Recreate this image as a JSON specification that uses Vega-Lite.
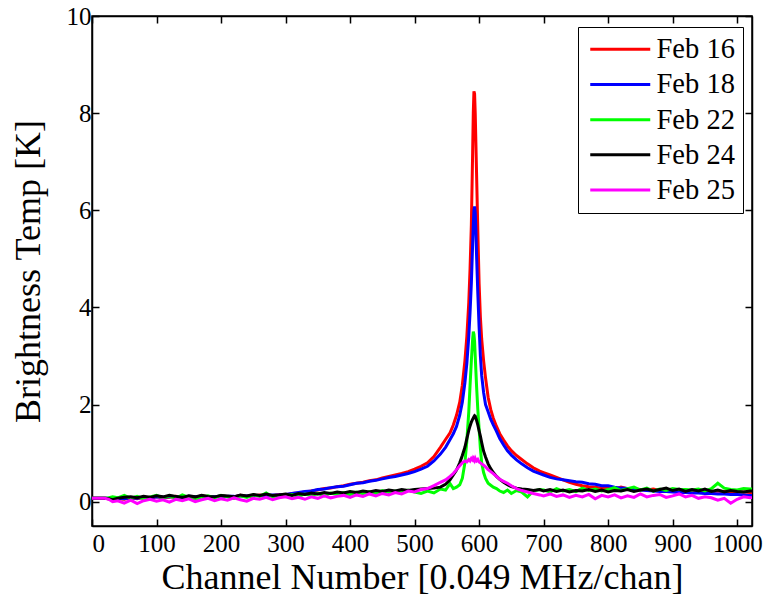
{
"$schema": "https://vega.github.io/schema/vega-lite/v6.json",
"width": 660, "height": 510,
"autosize": {"type": "none"},
"padding": {"left": 92, "top": 16, "right": 14, "bottom": 77},
"background": "white",
"config": {
 "font": "Liberation Serif",
 "view": {"stroke": "black", "strokeWidth": 1.5},
 "axis": {"grid": false, "domainColor": "black", "domainWidth": 1.5, "tickColor": "black", "tickWidth": 1.5, "tickSize": -7, "labelFontSize": 25, "labelColor": "black", "labelFont": "Liberation Serif", "titleFont": "Liberation Serif", "titleFontSize": 36, "titleFontWeight": "normal", "titleColor": "black"},
 "legend": {"orient": "none", "legendX": 486, "legendY": 11, "strokeColor": "black", "fillColor": "white", "padding": 8, "symbolType": "M-6,0H6", "symbolSize": 100, "symbolStrokeWidth": 3, "symbolOffset": 20, "labelOffset": 22, "labelFontSize": 28.5, "labelFont": "Liberation Serif", "labelColor": "black", "rowPadding": 6.2}
},
"datasets": {"d": [
{"s":"Feb 16","c":0,"t":0.07},{"s":"Feb 16","c":10,"t":0.07},{"s":"Feb 16","c":20,"t":0.07},{"s":"Feb 16","c":26,"t":0.06},{"s":"Feb 16","c":32,"t":0.04},{"s":"Feb 16","c":40,"t":0.06},{"s":"Feb 16","c":50,"t":0.05},{"s":"Feb 16","c":60,"t":0.08},{"s":"Feb 16","c":70,"t":0.06},{"s":"Feb 16","c":80,"t":0.09},{"s":"Feb 16","c":90,"t":0.07},{"s":"Feb 16","c":100,"t":0.1},{"s":"Feb 16","c":110,"t":0.08},{"s":"Feb 16","c":120,"t":0.09},{"s":"Feb 16","c":130,"t":0.11},{"s":"Feb 16","c":140,"t":0.08},{"s":"Feb 16","c":150,"t":0.1},{"s":"Feb 16","c":160,"t":0.09},{"s":"Feb 16","c":170,"t":0.12},{"s":"Feb 16","c":180,"t":0.1},{"s":"Feb 16","c":190,"t":0.09},{"s":"Feb 16","c":200,"t":0.12},{"s":"Feb 16","c":210,"t":0.11},{"s":"Feb 16","c":220,"t":0.1},{"s":"Feb 16","c":230,"t":0.13},{"s":"Feb 16","c":240,"t":0.11},{"s":"Feb 16","c":250,"t":0.12},{"s":"Feb 16","c":260,"t":0.14},{"s":"Feb 16","c":270,"t":0.12},{"s":"Feb 16","c":280,"t":0.13},{"s":"Feb 16","c":290,"t":0.15},{"s":"Feb 16","c":300,"t":0.14},{"s":"Feb 16","c":310,"t":0.17},{"s":"Feb 16","c":320,"t":0.18},{"s":"Feb 16","c":330,"t":0.2},{"s":"Feb 16","c":340,"t":0.22},{"s":"Feb 16","c":350,"t":0.24},{"s":"Feb 16","c":360,"t":0.27},{"s":"Feb 16","c":370,"t":0.28},{"s":"Feb 16","c":380,"t":0.31},{"s":"Feb 16","c":390,"t":0.33},{"s":"Feb 16","c":400,"t":0.36},{"s":"Feb 16","c":410,"t":0.38},{"s":"Feb 16","c":420,"t":0.4},{"s":"Feb 16","c":430,"t":0.43},{"s":"Feb 16","c":440,"t":0.45},{"s":"Feb 16","c":450,"t":0.49},{"s":"Feb 16","c":460,"t":0.52},{"s":"Feb 16","c":470,"t":0.55},{"s":"Feb 16","c":480,"t":0.58},{"s":"Feb 16","c":490,"t":0.62},{"s":"Feb 16","c":500,"t":0.67},{"s":"Feb 16","c":510,"t":0.73},
{"s":"Feb 16","c":520,"t":0.8},{"s":"Feb 16","c":530,"t":0.93},{"s":"Feb 16","c":540,"t":1.12},{"s":"Feb 16","c":548,"t":1.28},{"s":"Feb 16","c":555,"t":1.42},{"s":"Feb 16","c":560,"t":1.58},{"s":"Feb 16","c":565,"t":1.78},{"s":"Feb 16","c":570,"t":2.05},{"s":"Feb 16","c":574,"t":2.4},{"s":"Feb 16","c":578,"t":2.9},{"s":"Feb 16","c":581,"t":3.4},{"s":"Feb 16","c":584,"t":4.1},{"s":"Feb 16","c":586,"t":4.8},{"s":"Feb 16","c":588,"t":5.7},{"s":"Feb 16","c":590,"t":7.2},{"s":"Feb 16","c":591,"t":8.0},{"s":"Feb 16","c":592,"t":8.45},{"s":"Feb 16","c":593,"t":8.4},{"s":"Feb 16","c":594,"t":8.0},{"s":"Feb 16","c":595,"t":7.4},{"s":"Feb 16","c":596,"t":6.8},{"s":"Feb 16","c":598,"t":5.6},{"s":"Feb 16","c":600,"t":4.5},{"s":"Feb 16","c":602,"t":3.8},{"s":"Feb 16","c":604,"t":3.35},{"s":"Feb 16","c":607,"t":2.9},{"s":"Feb 16","c":610,"t":2.55},{"s":"Feb 16","c":614,"t":2.15},{"s":"Feb 16","c":618,"t":1.9},{"s":"Feb 16","c":622,"t":1.72},{"s":"Feb 16","c":627,"t":1.55},{"s":"Feb 16","c":632,"t":1.4},{"s":"Feb 16","c":638,"t":1.27},{"s":"Feb 16","c":644,"t":1.15},{"s":"Feb 16","c":650,"t":1.05},{"s":"Feb 16","c":658,"t":0.95},{"s":"Feb 16","c":666,"t":0.87},{"s":"Feb 16","c":675,"t":0.78},{"s":"Feb 16","c":684,"t":0.7},{"s":"Feb 16","c":694,"t":0.63},
{"s":"Feb 16","c":700,"t":0.6},{"s":"Feb 16","c":710,"t":0.55},{"s":"Feb 16","c":720,"t":0.5},{"s":"Feb 16","c":730,"t":0.45},{"s":"Feb 16","c":740,"t":0.4},{"s":"Feb 16","c":750,"t":0.36},{"s":"Feb 16","c":760,"t":0.33},{"s":"Feb 16","c":770,"t":0.31},{"s":"Feb 16","c":780,"t":0.3},{"s":"Feb 16","c":790,"t":0.28},{"s":"Feb 16","c":800,"t":0.27},{"s":"Feb 16","c":810,"t":0.26},{"s":"Feb 16","c":820,"t":0.3},{"s":"Feb 16","c":830,"t":0.27},{"s":"Feb 16","c":840,"t":0.26},{"s":"Feb 16","c":850,"t":0.25},{"s":"Feb 16","c":860,"t":0.24},{"s":"Feb 16","c":870,"t":0.26},{"s":"Feb 16","c":880,"t":0.23},{"s":"Feb 16","c":890,"t":0.25},{"s":"Feb 16","c":900,"t":0.22},{"s":"Feb 16","c":910,"t":0.24},{"s":"Feb 16","c":920,"t":0.23},{"s":"Feb 16","c":930,"t":0.21},{"s":"Feb 16","c":940,"t":0.23},{"s":"Feb 16","c":950,"t":0.22},{"s":"Feb 16","c":960,"t":0.2},{"s":"Feb 16","c":970,"t":0.22},{"s":"Feb 16","c":980,"t":0.21},{"s":"Feb 16","c":990,"t":0.19},{"s":"Feb 16","c":1000,"t":0.21},{"s":"Feb 16","c":1010,"t":0.2},{"s":"Feb 16","c":1020,"t":0.19},{"s":"Feb 16","c":1023,"t":0.19},
{"s":"Feb 18","c":0,"t":0.07},{"s":"Feb 18","c":10,"t":0.07},{"s":"Feb 18","c":20,"t":0.07},{"s":"Feb 18","c":26,"t":0.07},{"s":"Feb 18","c":32,"t":0.05},{"s":"Feb 18","c":40,"t":0.07},{"s":"Feb 18","c":50,"t":0.06},{"s":"Feb 18","c":60,"t":0.08},{"s":"Feb 18","c":70,"t":0.07},{"s":"Feb 18","c":80,"t":0.09},{"s":"Feb 18","c":90,"t":0.08},{"s":"Feb 18","c":100,"t":0.1},{"s":"Feb 18","c":110,"t":0.09},{"s":"Feb 18","c":120,"t":0.1},{"s":"Feb 18","c":130,"t":0.1},{"s":"Feb 18","c":140,"t":0.09},{"s":"Feb 18","c":150,"t":0.11},{"s":"Feb 18","c":160,"t":0.1},{"s":"Feb 18","c":170,"t":0.11},{"s":"Feb 18","c":180,"t":0.1},{"s":"Feb 18","c":190,"t":0.1},{"s":"Feb 18","c":200,"t":0.12},{"s":"Feb 18","c":210,"t":0.11},{"s":"Feb 18","c":220,"t":0.11},{"s":"Feb 18","c":230,"t":0.12},{"s":"Feb 18","c":240,"t":0.12},{"s":"Feb 18","c":250,"t":0.13},{"s":"Feb 18","c":260,"t":0.13},{"s":"Feb 18","c":270,"t":0.13},{"s":"Feb 18","c":280,"t":0.14},{"s":"Feb 18","c":290,"t":0.14},{"s":"Feb 18","c":300,"t":0.15},{"s":"Feb 18","c":310,"t":0.17},{"s":"Feb 18","c":320,"t":0.19},{"s":"Feb 18","c":330,"t":0.21},{"s":"Feb 18","c":340,"t":0.22},{"s":"Feb 18","c":350,"t":0.25},{"s":"Feb 18","c":360,"t":0.26},{"s":"Feb 18","c":370,"t":0.29},{"s":"Feb 18","c":380,"t":0.31},{"s":"Feb 18","c":390,"t":0.32},{"s":"Feb 18","c":400,"t":0.35},{"s":"Feb 18","c":410,"t":0.38},{"s":"Feb 18","c":420,"t":0.39},{"s":"Feb 18","c":430,"t":0.42},{"s":"Feb 18","c":440,"t":0.44},{"s":"Feb 18","c":450,"t":0.47},{"s":"Feb 18","c":460,"t":0.5},{"s":"Feb 18","c":470,"t":0.52},{"s":"Feb 18","c":480,"t":0.55},{"s":"Feb 18","c":490,"t":0.58},{"s":"Feb 18","c":500,"t":0.62},{"s":"Feb 18","c":510,"t":0.67},
{"s":"Feb 18","c":520,"t":0.73},{"s":"Feb 18","c":530,"t":0.84},{"s":"Feb 18","c":540,"t":0.98},{"s":"Feb 18","c":548,"t":1.12},{"s":"Feb 18","c":555,"t":1.28},{"s":"Feb 18","c":560,"t":1.4},{"s":"Feb 18","c":565,"t":1.55},{"s":"Feb 18","c":570,"t":1.78},{"s":"Feb 18","c":574,"t":2.05},{"s":"Feb 18","c":578,"t":2.45},{"s":"Feb 18","c":581,"t":2.85},{"s":"Feb 18","c":584,"t":3.4},{"s":"Feb 18","c":586,"t":3.9},{"s":"Feb 18","c":588,"t":4.5},{"s":"Feb 18","c":590,"t":5.3},{"s":"Feb 18","c":591,"t":5.7},{"s":"Feb 18","c":592,"t":6.0},{"s":"Feb 18","c":593,"t":6.08},{"s":"Feb 18","c":594,"t":5.95},{"s":"Feb 18","c":595,"t":5.6},{"s":"Feb 18","c":596,"t":5.1},{"s":"Feb 18","c":598,"t":4.3},{"s":"Feb 18","c":600,"t":3.6},{"s":"Feb 18","c":602,"t":3.0},{"s":"Feb 18","c":604,"t":2.6},{"s":"Feb 18","c":607,"t":2.25},{"s":"Feb 18","c":610,"t":2.0},{"s":"Feb 18","c":614,"t":1.85},{"s":"Feb 18","c":618,"t":1.7},{"s":"Feb 18","c":622,"t":1.58},{"s":"Feb 18","c":627,"t":1.45},{"s":"Feb 18","c":632,"t":1.3},{"s":"Feb 18","c":638,"t":1.17},{"s":"Feb 18","c":644,"t":1.05},{"s":"Feb 18","c":650,"t":0.96},{"s":"Feb 18","c":658,"t":0.86},{"s":"Feb 18","c":666,"t":0.78},{"s":"Feb 18","c":675,"t":0.7},{"s":"Feb 18","c":684,"t":0.63},{"s":"Feb 18","c":694,"t":0.58},
{"s":"Feb 18","c":700,"t":0.55},{"s":"Feb 18","c":710,"t":0.5},{"s":"Feb 18","c":720,"t":0.47},{"s":"Feb 18","c":730,"t":0.45},{"s":"Feb 18","c":740,"t":0.43},{"s":"Feb 18","c":750,"t":0.41},{"s":"Feb 18","c":760,"t":0.4},{"s":"Feb 18","c":770,"t":0.37},{"s":"Feb 18","c":780,"t":0.36},{"s":"Feb 18","c":790,"t":0.33},{"s":"Feb 18","c":800,"t":0.33},{"s":"Feb 18","c":810,"t":0.3},{"s":"Feb 18","c":820,"t":0.28},{"s":"Feb 18","c":830,"t":0.27},{"s":"Feb 18","c":840,"t":0.26},{"s":"Feb 18","c":850,"t":0.24},{"s":"Feb 18","c":860,"t":0.23},{"s":"Feb 18","c":870,"t":0.22},{"s":"Feb 18","c":880,"t":0.21},{"s":"Feb 18","c":890,"t":0.21},{"s":"Feb 18","c":900,"t":0.2},{"s":"Feb 18","c":910,"t":0.19},{"s":"Feb 18","c":920,"t":0.19},{"s":"Feb 18","c":930,"t":0.18},{"s":"Feb 18","c":940,"t":0.18},{"s":"Feb 18","c":950,"t":0.17},{"s":"Feb 18","c":960,"t":0.17},{"s":"Feb 18","c":970,"t":0.16},{"s":"Feb 18","c":980,"t":0.16},{"s":"Feb 18","c":990,"t":0.15},{"s":"Feb 18","c":1000,"t":0.15},{"s":"Feb 18","c":1010,"t":0.14},{"s":"Feb 18","c":1020,"t":0.13},{"s":"Feb 18","c":1023,"t":0.13},
{"s":"Feb 22","c":0,"t":0.07},{"s":"Feb 22","c":10,"t":0.07},{"s":"Feb 22","c":20,"t":0.07},{"s":"Feb 22","c":26,"t":0.08},{"s":"Feb 22","c":32,"t":0.1},{"s":"Feb 22","c":40,"t":0.08},{"s":"Feb 22","c":50,"t":0.13},{"s":"Feb 22","c":60,"t":0.07},{"s":"Feb 22","c":70,"t":0.11},{"s":"Feb 22","c":80,"t":0.06},{"s":"Feb 22","c":90,"t":0.1},{"s":"Feb 22","c":100,"t":0.13},{"s":"Feb 22","c":110,"t":0.08},{"s":"Feb 22","c":120,"t":0.12},{"s":"Feb 22","c":130,"t":0.07},{"s":"Feb 22","c":140,"t":0.14},{"s":"Feb 22","c":150,"t":0.09},{"s":"Feb 22","c":160,"t":0.03},{"s":"Feb 22","c":170,"t":0.1},{"s":"Feb 22","c":180,"t":0.12},{"s":"Feb 22","c":190,"t":0.08},{"s":"Feb 22","c":200,"t":0.13},{"s":"Feb 22","c":210,"t":0.1},{"s":"Feb 22","c":220,"t":0.07},{"s":"Feb 22","c":230,"t":0.12},{"s":"Feb 22","c":240,"t":0.09},{"s":"Feb 22","c":250,"t":0.14},{"s":"Feb 22","c":260,"t":0.11},{"s":"Feb 22","c":270,"t":0.18},{"s":"Feb 22","c":280,"t":0.1},{"s":"Feb 22","c":290,"t":0.13},{"s":"Feb 22","c":300,"t":0.12},{"s":"Feb 22","c":310,"t":0.15},{"s":"Feb 22","c":320,"t":0.11},{"s":"Feb 22","c":330,"t":0.16},{"s":"Feb 22","c":340,"t":0.13},{"s":"Feb 22","c":350,"t":0.17},{"s":"Feb 22","c":360,"t":0.12},{"s":"Feb 22","c":370,"t":0.18},{"s":"Feb 22","c":380,"t":0.15},{"s":"Feb 22","c":390,"t":0.19},{"s":"Feb 22","c":400,"t":0.14},{"s":"Feb 22","c":410,"t":0.2},{"s":"Feb 22","c":420,"t":0.16},{"s":"Feb 22","c":430,"t":0.21},{"s":"Feb 22","c":440,"t":0.17},{"s":"Feb 22","c":450,"t":0.23},{"s":"Feb 22","c":460,"t":0.19},{"s":"Feb 22","c":470,"t":0.22},{"s":"Feb 22","c":480,"t":0.18},{"s":"Feb 22","c":490,"t":0.24},{"s":"Feb 22","c":500,"t":0.2},{"s":"Feb 22","c":510,"t":0.17},
{"s":"Feb 22","c":520,"t":0.22},{"s":"Feb 22","c":530,"t":0.18},{"s":"Feb 22","c":540,"t":0.26},{"s":"Feb 22","c":548,"t":0.24},{"s":"Feb 22","c":555,"t":0.37},{"s":"Feb 22","c":560,"t":0.27},{"s":"Feb 22","c":565,"t":0.3},{"s":"Feb 22","c":570,"t":0.35},{"s":"Feb 22","c":574,"t":0.48},{"s":"Feb 22","c":578,"t":0.8},{"s":"Feb 22","c":581,"t":1.25},{"s":"Feb 22","c":584,"t":1.85},{"s":"Feb 22","c":586,"t":2.4},{"s":"Feb 22","c":588,"t":2.9},{"s":"Feb 22","c":590,"t":3.35},{"s":"Feb 22","c":591,"t":3.5},{"s":"Feb 22","c":592,"t":3.45},{"s":"Feb 22","c":593,"t":3.3},{"s":"Feb 22","c":594,"t":3.0},{"s":"Feb 22","c":595,"t":2.7},{"s":"Feb 22","c":596,"t":2.4},{"s":"Feb 22","c":598,"t":1.9},{"s":"Feb 22","c":600,"t":1.5},{"s":"Feb 22","c":602,"t":1.1},{"s":"Feb 22","c":604,"t":0.8},{"s":"Feb 22","c":607,"t":0.6},{"s":"Feb 22","c":610,"t":0.48},{"s":"Feb 22","c":614,"t":0.38},{"s":"Feb 22","c":618,"t":0.34},{"s":"Feb 22","c":622,"t":0.3},{"s":"Feb 22","c":627,"t":0.27},{"s":"Feb 22","c":632,"t":0.22},{"s":"Feb 22","c":638,"t":0.19},{"s":"Feb 22","c":644,"t":0.24},{"s":"Feb 22","c":650,"t":0.17},{"s":"Feb 22","c":658,"t":0.23},{"s":"Feb 22","c":666,"t":0.2},{"s":"Feb 22","c":675,"t":0.1},{"s":"Feb 22","c":684,"t":0.22},{"s":"Feb 22","c":694,"t":0.25},
{"s":"Feb 22","c":700,"t":0.24},{"s":"Feb 22","c":710,"t":0.2},{"s":"Feb 22","c":720,"t":0.27},{"s":"Feb 22","c":730,"t":0.22},{"s":"Feb 22","c":740,"t":0.25},{"s":"Feb 22","c":750,"t":0.21},{"s":"Feb 22","c":760,"t":0.28},{"s":"Feb 22","c":770,"t":0.23},{"s":"Feb 22","c":780,"t":0.26},{"s":"Feb 22","c":790,"t":0.22},{"s":"Feb 22","c":800,"t":0.25},{"s":"Feb 22","c":810,"t":0.29},{"s":"Feb 22","c":820,"t":0.23},{"s":"Feb 22","c":830,"t":0.27},{"s":"Feb 22","c":840,"t":0.3},{"s":"Feb 22","c":850,"t":0.24},{"s":"Feb 22","c":860,"t":0.28},{"s":"Feb 22","c":870,"t":0.22},{"s":"Feb 22","c":880,"t":0.26},{"s":"Feb 22","c":890,"t":0.23},{"s":"Feb 22","c":900,"t":0.27},{"s":"Feb 22","c":910,"t":0.25},{"s":"Feb 22","c":920,"t":0.25},{"s":"Feb 22","c":930,"t":0.24},{"s":"Feb 22","c":940,"t":0.26},{"s":"Feb 22","c":950,"t":0.22},{"s":"Feb 22","c":960,"t":0.27},{"s":"Feb 22","c":970,"t":0.38},{"s":"Feb 22","c":980,"t":0.28},{"s":"Feb 22","c":990,"t":0.25},{"s":"Feb 22","c":1000,"t":0.24},{"s":"Feb 22","c":1010,"t":0.27},{"s":"Feb 22","c":1020,"t":0.26},{"s":"Feb 22","c":1023,"t":0.26},
{"s":"Feb 24","c":0,"t":0.07},{"s":"Feb 24","c":10,"t":0.07},{"s":"Feb 24","c":20,"t":0.07},{"s":"Feb 24","c":26,"t":0.06},{"s":"Feb 24","c":32,"t":0.04},{"s":"Feb 24","c":40,"t":0.07},{"s":"Feb 24","c":50,"t":0.09},{"s":"Feb 24","c":60,"t":0.1},{"s":"Feb 24","c":70,"t":0.08},{"s":"Feb 24","c":80,"t":0.11},{"s":"Feb 24","c":90,"t":0.09},{"s":"Feb 24","c":100,"t":0.12},{"s":"Feb 24","c":110,"t":0.1},{"s":"Feb 24","c":120,"t":0.13},{"s":"Feb 24","c":130,"t":0.11},{"s":"Feb 24","c":140,"t":0.09},{"s":"Feb 24","c":150,"t":0.12},{"s":"Feb 24","c":160,"t":0.1},{"s":"Feb 24","c":170,"t":0.13},{"s":"Feb 24","c":180,"t":0.11},{"s":"Feb 24","c":190,"t":0.1},{"s":"Feb 24","c":200,"t":0.13},{"s":"Feb 24","c":210,"t":0.12},{"s":"Feb 24","c":220,"t":0.1},{"s":"Feb 24","c":230,"t":0.14},{"s":"Feb 24","c":240,"t":0.12},{"s":"Feb 24","c":250,"t":0.15},{"s":"Feb 24","c":260,"t":0.13},{"s":"Feb 24","c":270,"t":0.16},{"s":"Feb 24","c":280,"t":0.13},{"s":"Feb 24","c":290,"t":0.14},{"s":"Feb 24","c":300,"t":0.16},{"s":"Feb 24","c":310,"t":0.13},{"s":"Feb 24","c":320,"t":0.17},{"s":"Feb 24","c":330,"t":0.15},{"s":"Feb 24","c":340,"t":0.18},{"s":"Feb 24","c":350,"t":0.16},{"s":"Feb 24","c":360,"t":0.19},{"s":"Feb 24","c":370,"t":0.17},{"s":"Feb 24","c":380,"t":0.2},{"s":"Feb 24","c":390,"t":0.18},{"s":"Feb 24","c":400,"t":0.21},{"s":"Feb 24","c":410,"t":0.19},{"s":"Feb 24","c":420,"t":0.22},{"s":"Feb 24","c":430,"t":0.2},{"s":"Feb 24","c":440,"t":0.23},{"s":"Feb 24","c":450,"t":0.21},{"s":"Feb 24","c":460,"t":0.24},{"s":"Feb 24","c":470,"t":0.22},{"s":"Feb 24","c":480,"t":0.25},{"s":"Feb 24","c":490,"t":0.23},{"s":"Feb 24","c":500,"t":0.25},{"s":"Feb 24","c":510,"t":0.26},
{"s":"Feb 24","c":520,"t":0.27},{"s":"Feb 24","c":530,"t":0.28},{"s":"Feb 24","c":540,"t":0.3},{"s":"Feb 24","c":548,"t":0.36},{"s":"Feb 24","c":555,"t":0.45},{"s":"Feb 24","c":560,"t":0.55},{"s":"Feb 24","c":565,"t":0.65},{"s":"Feb 24","c":570,"t":0.8},{"s":"Feb 24","c":574,"t":0.95},{"s":"Feb 24","c":578,"t":1.12},{"s":"Feb 24","c":581,"t":1.3},{"s":"Feb 24","c":584,"t":1.47},{"s":"Feb 24","c":586,"t":1.56},{"s":"Feb 24","c":588,"t":1.64},{"s":"Feb 24","c":590,"t":1.7},{"s":"Feb 24","c":591,"t":1.72},{"s":"Feb 24","c":592,"t":1.75},{"s":"Feb 24","c":593,"t":1.77},{"s":"Feb 24","c":594,"t":1.76},{"s":"Feb 24","c":595,"t":1.72},{"s":"Feb 24","c":596,"t":1.68},{"s":"Feb 24","c":598,"t":1.58},{"s":"Feb 24","c":600,"t":1.46},{"s":"Feb 24","c":602,"t":1.35},{"s":"Feb 24","c":604,"t":1.22},{"s":"Feb 24","c":607,"t":1.04},{"s":"Feb 24","c":610,"t":0.92},{"s":"Feb 24","c":614,"t":0.78},{"s":"Feb 24","c":618,"t":0.68},{"s":"Feb 24","c":622,"t":0.6},{"s":"Feb 24","c":627,"t":0.52},{"s":"Feb 24","c":632,"t":0.46},{"s":"Feb 24","c":638,"t":0.4},{"s":"Feb 24","c":644,"t":0.35},{"s":"Feb 24","c":650,"t":0.31},{"s":"Feb 24","c":658,"t":0.28},{"s":"Feb 24","c":666,"t":0.26},{"s":"Feb 24","c":675,"t":0.25},{"s":"Feb 24","c":684,"t":0.23},{"s":"Feb 24","c":694,"t":0.25},
{"s":"Feb 24","c":700,"t":0.22},{"s":"Feb 24","c":710,"t":0.25},{"s":"Feb 24","c":720,"t":0.21},{"s":"Feb 24","c":730,"t":0.24},{"s":"Feb 24","c":740,"t":0.2},{"s":"Feb 24","c":750,"t":0.23},{"s":"Feb 24","c":760,"t":0.22},{"s":"Feb 24","c":770,"t":0.25},{"s":"Feb 24","c":780,"t":0.21},{"s":"Feb 24","c":790,"t":0.24},{"s":"Feb 24","c":800,"t":0.2},{"s":"Feb 24","c":810,"t":0.23},{"s":"Feb 24","c":820,"t":0.22},{"s":"Feb 24","c":830,"t":0.25},{"s":"Feb 24","c":840,"t":0.21},{"s":"Feb 24","c":850,"t":0.24},{"s":"Feb 24","c":860,"t":0.26},{"s":"Feb 24","c":870,"t":0.22},{"s":"Feb 24","c":880,"t":0.25},{"s":"Feb 24","c":890,"t":0.28},{"s":"Feb 24","c":900,"t":0.23},{"s":"Feb 24","c":910,"t":0.26},{"s":"Feb 24","c":920,"t":0.21},{"s":"Feb 24","c":930,"t":0.25},{"s":"Feb 24","c":940,"t":0.22},{"s":"Feb 24","c":950,"t":0.26},{"s":"Feb 24","c":960,"t":0.21},{"s":"Feb 24","c":970,"t":0.24},{"s":"Feb 24","c":980,"t":0.2},{"s":"Feb 24","c":990,"t":0.23},{"s":"Feb 24","c":1000,"t":0.21},{"s":"Feb 24","c":1010,"t":0.2},{"s":"Feb 24","c":1020,"t":0.22},{"s":"Feb 24","c":1023,"t":0.22},
{"s":"Feb 25","c":0,"t":0.07},{"s":"Feb 25","c":10,"t":0.07},{"s":"Feb 25","c":20,"t":0.07},{"s":"Feb 25","c":26,"t":0.05},{"s":"Feb 25","c":32,"t":0.0},{"s":"Feb 25","c":40,"t":0.02},{"s":"Feb 25","c":50,"t":-0.03},{"s":"Feb 25","c":60,"t":0.03},{"s":"Feb 25","c":70,"t":-0.04},{"s":"Feb 25","c":80,"t":0.02},{"s":"Feb 25","c":90,"t":0.05},{"s":"Feb 25","c":100,"t":0.01},{"s":"Feb 25","c":110,"t":0.04},{"s":"Feb 25","c":120,"t":-0.01},{"s":"Feb 25","c":130,"t":0.05},{"s":"Feb 25","c":140,"t":0.02},{"s":"Feb 25","c":150,"t":0.06},{"s":"Feb 25","c":160,"t":0.0},{"s":"Feb 25","c":170,"t":0.04},{"s":"Feb 25","c":180,"t":0.07},{"s":"Feb 25","c":190,"t":0.02},{"s":"Feb 25","c":200,"t":0.06},{"s":"Feb 25","c":210,"t":0.03},{"s":"Feb 25","c":220,"t":0.08},{"s":"Feb 25","c":230,"t":0.04},{"s":"Feb 25","c":240,"t":0.01},{"s":"Feb 25","c":250,"t":0.07},{"s":"Feb 25","c":260,"t":0.05},{"s":"Feb 25","c":270,"t":0.09},{"s":"Feb 25","c":280,"t":0.04},{"s":"Feb 25","c":290,"t":0.08},{"s":"Feb 25","c":300,"t":0.1},{"s":"Feb 25","c":310,"t":0.06},{"s":"Feb 25","c":320,"t":0.09},{"s":"Feb 25","c":330,"t":0.05},{"s":"Feb 25","c":340,"t":0.1},{"s":"Feb 25","c":350,"t":0.07},{"s":"Feb 25","c":360,"t":0.12},{"s":"Feb 25","c":370,"t":0.08},{"s":"Feb 25","c":380,"t":0.11},{"s":"Feb 25","c":390,"t":0.13},{"s":"Feb 25","c":400,"t":0.09},{"s":"Feb 25","c":410,"t":0.14},{"s":"Feb 25","c":420,"t":0.11},{"s":"Feb 25","c":430,"t":0.16},{"s":"Feb 25","c":440,"t":0.12},{"s":"Feb 25","c":450,"t":0.17},{"s":"Feb 25","c":460,"t":0.14},{"s":"Feb 25","c":470,"t":0.19},{"s":"Feb 25","c":480,"t":0.16},{"s":"Feb 25","c":490,"t":0.22},{"s":"Feb 25","c":500,"t":0.2},{"s":"Feb 25","c":510,"t":0.25},
{"s":"Feb 25","c":520,"t":0.27},{"s":"Feb 25","c":530,"t":0.33},{"s":"Feb 25","c":540,"t":0.4},{"s":"Feb 25","c":548,"t":0.45},{"s":"Feb 25","c":555,"t":0.52},{"s":"Feb 25","c":560,"t":0.58},{"s":"Feb 25","c":565,"t":0.66},{"s":"Feb 25","c":570,"t":0.74},{"s":"Feb 25","c":574,"t":0.8},{"s":"Feb 25","c":578,"t":0.84},{"s":"Feb 25","c":581,"t":0.82},{"s":"Feb 25","c":584,"t":0.87},{"s":"Feb 25","c":586,"t":0.84},{"s":"Feb 25","c":588,"t":0.89},{"s":"Feb 25","c":590,"t":0.86},{"s":"Feb 25","c":591,"t":0.9},{"s":"Feb 25","c":592,"t":0.88},{"s":"Feb 25","c":593,"t":0.85},{"s":"Feb 25","c":594,"t":0.89},{"s":"Feb 25","c":595,"t":0.86},{"s":"Feb 25","c":596,"t":0.84},{"s":"Feb 25","c":598,"t":0.87},{"s":"Feb 25","c":600,"t":0.82},{"s":"Feb 25","c":602,"t":0.8},{"s":"Feb 25","c":604,"t":0.78},{"s":"Feb 25","c":607,"t":0.75},{"s":"Feb 25","c":610,"t":0.72},{"s":"Feb 25","c":614,"t":0.66},{"s":"Feb 25","c":618,"t":0.62},{"s":"Feb 25","c":622,"t":0.58},{"s":"Feb 25","c":627,"t":0.52},{"s":"Feb 25","c":632,"t":0.46},{"s":"Feb 25","c":638,"t":0.42},{"s":"Feb 25","c":644,"t":0.38},{"s":"Feb 25","c":650,"t":0.33},{"s":"Feb 25","c":658,"t":0.27},{"s":"Feb 25","c":666,"t":0.23},{"s":"Feb 25","c":675,"t":0.2},{"s":"Feb 25","c":684,"t":0.17},{"s":"Feb 25","c":694,"t":0.14},
{"s":"Feb 25","c":700,"t":0.12},{"s":"Feb 25","c":710,"t":0.16},{"s":"Feb 25","c":720,"t":0.11},{"s":"Feb 25","c":730,"t":0.14},{"s":"Feb 25","c":740,"t":0.09},{"s":"Feb 25","c":750,"t":0.13},{"s":"Feb 25","c":760,"t":0.1},{"s":"Feb 25","c":770,"t":0.15},{"s":"Feb 25","c":780,"t":0.06},{"s":"Feb 25","c":790,"t":0.13},{"s":"Feb 25","c":800,"t":0.1},{"s":"Feb 25","c":810,"t":0.14},{"s":"Feb 25","c":820,"t":0.08},{"s":"Feb 25","c":830,"t":0.12},{"s":"Feb 25","c":840,"t":0.09},{"s":"Feb 25","c":850,"t":0.16},{"s":"Feb 25","c":860,"t":0.1},{"s":"Feb 25","c":870,"t":0.13},{"s":"Feb 25","c":880,"t":0.15},{"s":"Feb 25","c":890,"t":0.09},{"s":"Feb 25","c":900,"t":0.12},{"s":"Feb 25","c":910,"t":0.16},{"s":"Feb 25","c":920,"t":0.1},{"s":"Feb 25","c":930,"t":0.13},{"s":"Feb 25","c":940,"t":0.07},{"s":"Feb 25","c":950,"t":0.1},{"s":"Feb 25","c":960,"t":0.08},{"s":"Feb 25","c":970,"t":0.03},{"s":"Feb 25","c":980,"t":0.07},{"s":"Feb 25","c":990,"t":-0.03},{"s":"Feb 25","c":1000,"t":0.05},{"s":"Feb 25","c":1010,"t":0.1},{"s":"Feb 25","c":1020,"t":0.08},{"s":"Feb 25","c":1023,"t":0.09}
]},
"data": {"name": "d"},
"layer": [
 {"mark": {"type": "line", "strokeWidth": 3, "clip": true},
  "encoding": {
   "x": {"field": "c", "type": "quantitative", "scale": {"domain": [0, 1023], "nice": false, "zero": false},
         "axis": {"orient": "bottom", "values": [0,100,200,300,400,500,600,700,800,900,1000], "format": "d", "labelFont": "Liberation Serif", "labelFontSize": 25, "title": "Channel Number [0.049 MHz/chan]", "labelPadding": 12, "titlePadding": 4}},
   "y": {"field": "t", "type": "quantitative", "scale": {"domain": [-0.5, 10], "nice": false, "zero": false},
         "axis": {"orient": "left", "values": [0,2,4,6,8,10], "format": "d", "labelFont": "Liberation Serif", "labelFontSize": 25, "title": "Brightness Temp [K]", "labelPadding": 8, "titlePadding": 19}},
   "color": {"field": "s", "type": "nominal", "title": null,
             "scale": {"domain": ["Feb 16","Feb 18","Feb 22","Feb 24","Feb 25"], "range": ["#ff0000","#0000ff","#00ff00","#000000","#ff00ff"]}}
  }},
 {"mark": {"type": "line", "opacity": 0},
  "encoding": {
   "x": {"field": "c", "type": "quantitative", "scale": {"domain": [0, 1023], "nice": false, "zero": false},
         "axis": {"orient": "top", "values": [0,100,200,300,400,500,600,700,800,900,1000], "labels": false, "title": null}},
   "y": {"field": "t", "type": "quantitative", "scale": {"domain": [-0.5, 10], "nice": false, "zero": false},
         "axis": {"orient": "right", "values": [0,2,4,6,8,10], "labels": false, "title": null}},
   "detail": {"field": "s"}
  }}
],
"resolve": {"axis": {"x": "independent", "y": "independent"}}
}
